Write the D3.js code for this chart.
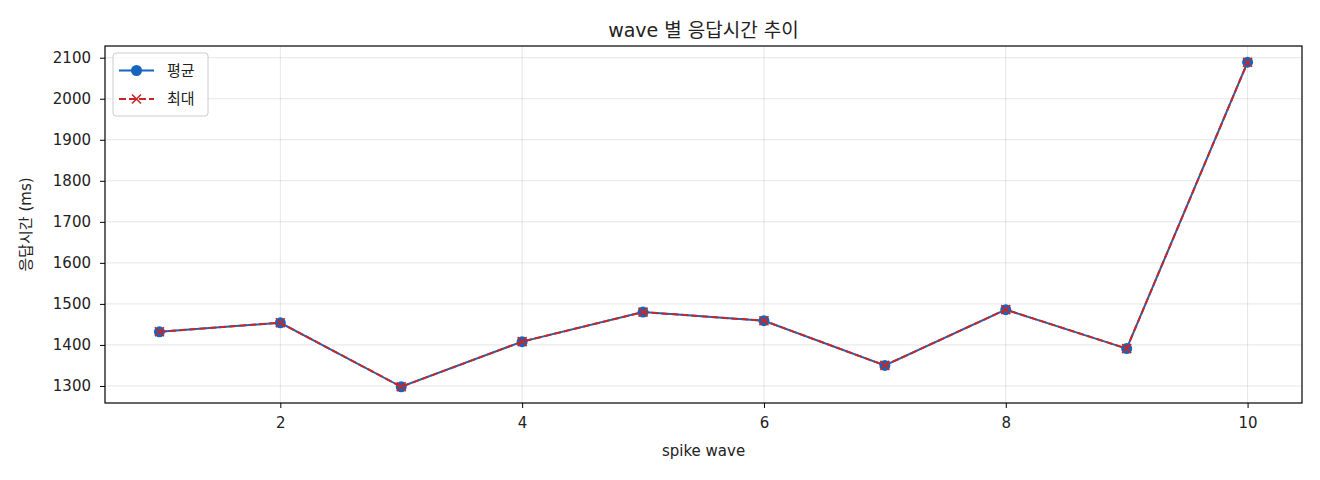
<!doctype html>
<html lang="ko">
<head>
    <meta charset="utf-8">
    <title>wave 별 응답시간 추이</title>
    <script src="https://d3js.org/d3.v7.min.js"></script>
    <style type="text/css">
        body { margin: 0; background: #fff; }
        svg text { font-family: "DejaVu Sans", "Noto Sans CJK KR", sans-serif; fill: #222; }
    </style>
</head>

<body>
</body>

<script type="text/javascript">

    var waves   = [1, 2, 3, 4, 5, 6, 7, 8, 9, 10];
    var avgMs   = [1432, 1454, 1298, 1408, 1480, 1459, 1350, 1486, 1391, 2089];
    var maxMs   = [1432, 1454, 1298, 1408, 1480, 1459, 1350, 1486, 1391, 2089];
    var xTicks  = [2, 4, 6, 8, 10];
    var yTicks  = [1300, 1400, 1500, 1600, 1700, 1800, 1900, 2000, 2100];
    var seriesNames = ["평균", "최대"];

    var width  = 1320;
    var height = 480;
    var margin = {top: 46, right: 18, bottom: 77, left: 105};
    var plotW = width - margin.left - margin.right;
    var plotH = height - margin.top - margin.bottom;

    var blue = "#1565c0";
    var red  = "#c62828";

    var xPad = (d3.max(waves) - d3.min(waves)) * 0.05;
    var xScale = d3.scaleLinear()
                 .domain([d3.min(waves) - xPad, d3.max(waves) + xPad])
                 .range([0, plotW]);

    var allY = avgMs.concat(maxMs);
    var yPad = (d3.max(allY) - d3.min(allY)) * 0.05;
    var yScale = d3.scaleLinear()
                 .domain([d3.min(allY) - yPad, d3.max(allY) + yPad])
                 .range([plotH, 0]);

    var svg = d3.select("body")
                .append("svg")
                .attr("width", width)
                .attr("height", height);

    var g = svg.append("g")
               .attr("transform", "translate(" + margin.left + "," + margin.top + ")");

    // grid
    g.selectAll("line.gx").data(xTicks).enter().append("line")
     .attr("x1", d => xScale(d)).attr("x2", d => xScale(d))
     .attr("y1", 0).attr("y2", plotH)
     .attr("stroke", "#000").attr("stroke-opacity", 0.1).attr("stroke-width", 1);

    g.selectAll("line.gy").data(yTicks).enter().append("line")
     .attr("x1", 0).attr("x2", plotW)
     .attr("y1", d => yScale(d)).attr("y2", d => yScale(d))
     .attr("stroke", "#000").attr("stroke-opacity", 0.1).attr("stroke-width", 1);

    // axes
    var xAxis = g.append("g")
                 .attr("transform", "translate(0," + plotH + ")")
                 .call(d3.axisBottom(xScale).tickValues(xTicks).tickFormat(d3.format("d"))
                         .tickSize(5).tickPadding(9));
    var yAxis = g.append("g")
                 .call(d3.axisLeft(yScale).tickValues(yTicks).tickFormat(d3.format("d"))
                         .tickSize(5).tickPadding(9));

    [xAxis, yAxis].forEach(function(a) {
        a.select(".domain").remove();
        a.selectAll("line").attr("stroke", "#000").attr("stroke-width", 1);
        a.selectAll("text").style("font-size", "15px").style("font-family", null).attr("fill", "#222");
    });

    g.append("rect")
     .attr("width", plotW).attr("height", plotH)
     .attr("fill", "none").attr("stroke", "#000").attr("stroke-width", 1.2);

    // series
    var line = d3.line()
                 .x((d, i) => xScale(waves[i]))
                 .y(d => yScale(d));

    g.append("path").datum(avgMs)
     .attr("d", line)
     .attr("fill", "none").attr("stroke", blue).attr("stroke-width", 2);

    g.selectAll("circle.avg").data(avgMs).enter().append("circle")
     .attr("cx", (d, i) => xScale(waves[i]))
     .attr("cy", d => yScale(d))
     .attr("r", 5.5).attr("fill", blue);

    g.append("path").datum(maxMs)
     .attr("d", line)
     .attr("fill", "none").attr("stroke", red).attr("stroke-width", 2)
     .attr("stroke-dasharray", "7,3");

    var xm = 4.5;
    var crosses = g.selectAll("g.max").data(maxMs).enter().append("g")
                   .attr("transform", (d, i) => "translate(" + xScale(waves[i]) + "," + yScale(d) + ")");
    crosses.append("path")
           .attr("d", "M" + (-xm) + "," + (-xm) + "L" + xm + "," + xm + "M" + (-xm) + "," + xm + "L" + xm + "," + (-xm))
           .attr("stroke", red).attr("stroke-width", 1.6).attr("fill", "none");

    // legend
    var lg = g.append("g").attr("transform", "translate(8,7)");
    lg.append("rect")
      .attr("width", 95).attr("height", 63).attr("rx", 3)
      .attr("fill", "#fff").attr("fill-opacity", 0.8)
      .attr("stroke", "#ccc").attr("stroke-width", 1);

    var rows = lg.selectAll("g.row").data(seriesNames).enter().append("g")
                 .attr("transform", (d, i) => "translate(0," + (17.5 + i * 28.5) + ")");
    rows.append("line")
        .attr("x1", 6).attr("x2", 41).attr("y1", 0).attr("y2", 0)
        .attr("stroke", (d, i) => i === 0 ? blue : red)
        .attr("stroke-width", 2)
        .attr("stroke-dasharray", (d, i) => i === 0 ? null : "7,3");
    rows.filter((d, i) => i === 0).append("circle")
        .attr("cx", 23.5).attr("cy", 0).attr("r", 5.5).attr("fill", blue);
    rows.filter((d, i) => i === 1).append("path")
        .attr("d", "M19,-4.5L28,4.5M19,4.5L28,-4.5")
        .attr("stroke", red).attr("stroke-width", 1.6);
    rows.append("text")
        .attr("x", 54).attr("y", 0).attr("dy", "0.35em")
        .style("font-size", "15px")
        .text(d => d);

    // titles
    svg.append("text")
       .attr("x", margin.left + plotW / 2).attr("y", 37)
       .attr("text-anchor", "middle")
       .style("font-size", "19px")
       .text("wave 별 응답시간 추이");

    svg.append("text")
       .attr("x", margin.left + plotW / 2).attr("y", 456)
       .attr("text-anchor", "middle")
       .style("font-size", "15px")
       .text("spike wave");

    svg.append("text")
       .attr("transform", "translate(31," + (margin.top + plotH / 2) + ") rotate(-90)")
       .attr("text-anchor", "middle")
       .style("font-size", "15px")
       .text("응답시간 (ms)");

</script>

</html>
